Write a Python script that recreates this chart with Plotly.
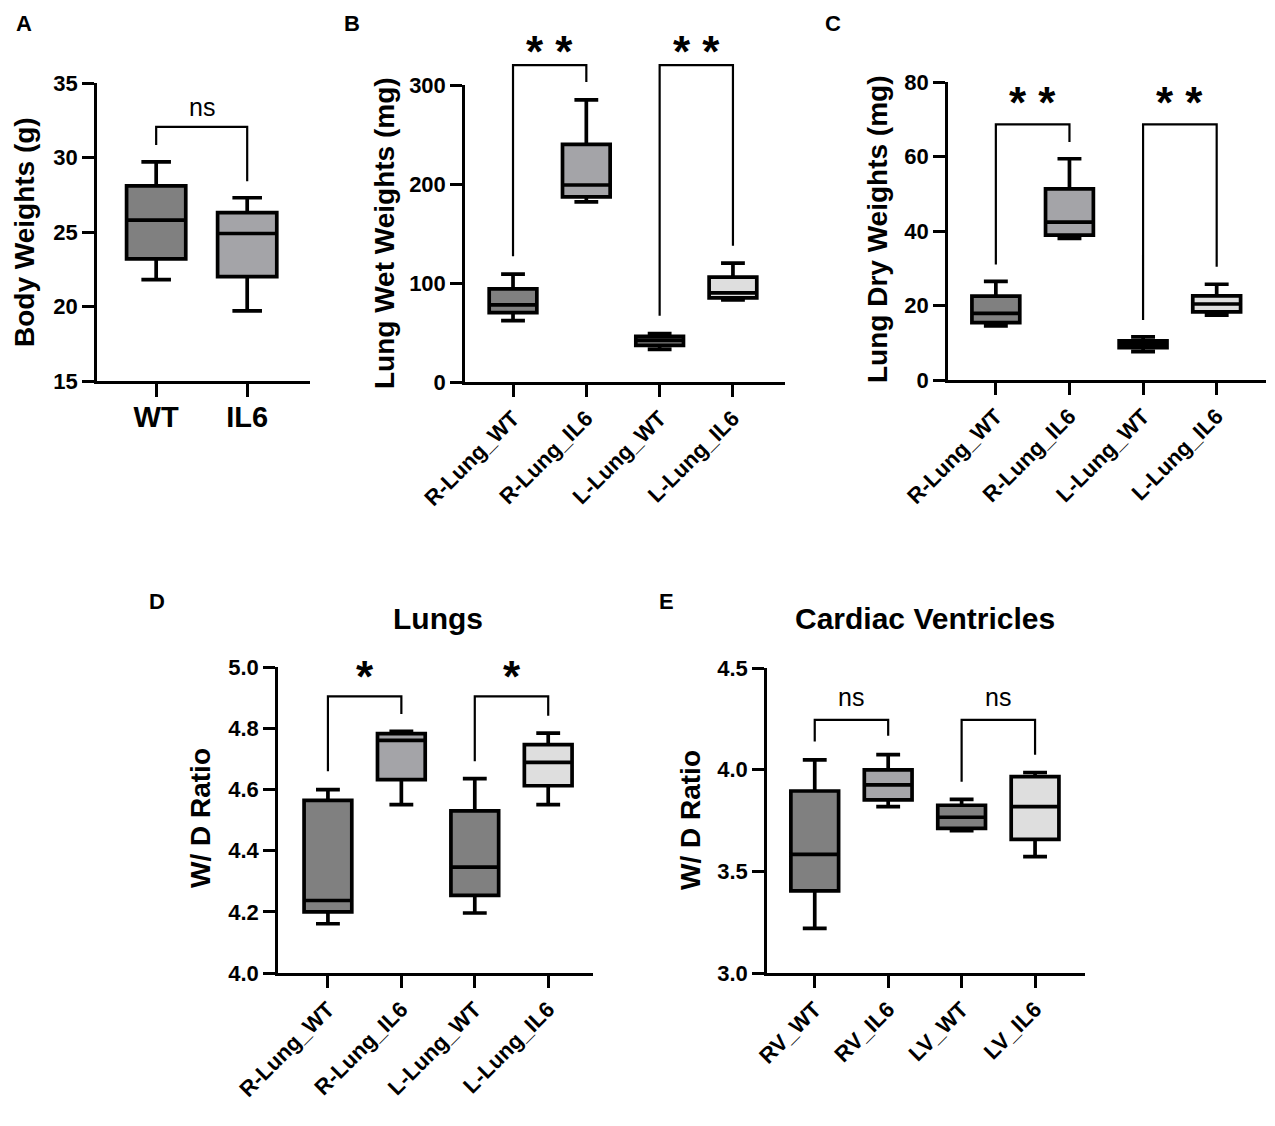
import plotly.graph_objects as go

# page body has an 8px margin, so the figure is drawn 8px in from the window edge
OFF = 8
W, H = 1275 - 2 * OFF, 1126 - 2 * OFF
FONT = "Arial, Liberation Sans, sans-serif"
DARK = "#808080"
MID = "#a4a4a8"
LIGHT = "#dedede"


def px(x):
    return (x - OFF) / W


def py(y):
    return 1 - (y - OFF) / H


# Panel A - body weights
a_groups = ["WT", "IL6"]
a_low = [21.8, 19.7]
a_q1 = [23.2, 22.0]
a_med = [25.8, 24.9]
a_q3 = [28.1, 26.3]
a_high = [29.7, 27.3]

# Panel B - lung wet weights (mg)
lung_groups = ["R-Lung_WT", "R-Lung_IL6", "L-Lung_WT", "L-Lung_IL6"]
b_low = [62, 182, 33, 83]
b_q1 = [70, 187, 37, 85]
b_med = [78, 199, 42, 90]
b_q3 = [94, 240, 46, 106]
b_high = [109, 285, 49, 120]

# Panel C - lung dry weights (mg)
c_low = [14.5, 38.0, 7.6, 17.4]
c_q1 = [15.4, 38.9, 8.7, 18.3]
c_med = [17.9, 42.4, 9.6, 20.4]
c_q3 = [22.5, 51.3, 10.5, 22.6]
c_high = [26.5, 59.4, 11.6, 25.7]

# Panel D - lungs W/D ratio
d_low = [4.161, 4.55, 4.196, 4.55]
d_q1 = [4.20, 4.632, 4.254, 4.612]
d_med = [4.237, 4.76, 4.346, 4.688]
d_q3 = [4.564, 4.782, 4.53, 4.746]
d_high = [4.599, 4.79, 4.635, 4.784]

# Panel E - cardiac ventricles W/D ratio
vent_groups = ["RV_WT", "RV_IL6", "LV_WT", "LV_IL6"]
e_low = [3.219, 3.818, 3.70, 3.572]
e_q1 = [3.404, 3.851, 3.711, 3.657]
e_med = [3.583, 3.925, 3.766, 3.818]
e_q3 = [3.895, 3.999, 3.825, 3.966]
e_high = [4.048, 4.074, 3.854, 3.986]

# significance brackets: (left idx, right idx, top, left foot, right foot, label, label y)
a_sig = [(0, 1, 32.05, 30.84, 28.4, "ns", 33.4)]
b_sig = [(0, 1, 320, 127, 303, "* *", 334), (2, 3, 320, 67, 137.6, "* *", 334)]
c_sig = [(0, 1, 68.6, 31, 63.9, "* *", 74.5), (2, 3, 68.6, 16.1, 30.4, "* *", 74.5)]
d_sig = [(0, 1, 4.904, 4.659, 4.846, "*", 4.97), (2, 3, 4.904, 4.692, 4.841, "*", 4.97)]
e_sig = [(0, 1, 4.245, 4.139, 4.167, "ns", 4.355), (2, 3, 4.245, 3.941, 4.073, "ns", 4.355)]

panels = [
    dict(key="", groups=a_groups, stats=(a_low, a_q1, a_med, a_q3, a_high),
         colors=[DARK, MID], sig=a_sig, xd=(97, 310), yd=(83, 381),
         yr=[15, 35], dt=5, xr=[-0.65, 1.69], letter="A", lx=24,
         ytitle="Body Weights (g)", tx=25, ty=232, angle=0),
    dict(key="2", groups=lung_groups, stats=(b_low, b_q1, b_med, b_q3, b_high),
         colors=[DARK, MID, DARK, LIGHT], sig=b_sig, xd=(465, 785), yd=(85, 382),
         yr=[0, 300], dt=100, xr=[-0.655, 3.71], letter="B", lx=352,
         ytitle="Lung Wet Weights (mg)", tx=384, ty=233, angle=-45),
    dict(key="3", groups=lung_groups, stats=(c_low, c_q1, c_med, c_q3, c_high),
         colors=[DARK, MID, DARK, LIGHT], sig=c_sig, xd=(948, 1266), yd=(82, 380),
         yr=[0, 80], dt=20, xr=[-0.65, 3.67], letter="C", lx=833,
         ytitle="Lung Dry Weights (mg)", tx=878, ty=230, angle=-45),
    dict(key="4", groups=lung_groups, stats=(d_low, d_q1, d_med, d_q3, d_high),
         colors=[DARK, MID, DARK, LIGHT], sig=d_sig, xd=(278, 593), yd=(667, 973),
         yr=[4.0, 5.0], dt=0.2, xr=[-0.68, 3.61], letter="D", lx=157,
         ytitle="W/ D Ratio", tx=200, ty=818, angle=-45),
    dict(key="5", groups=vent_groups, stats=(e_low, e_q1, e_med, e_q3, e_high),
         colors=[DARK, MID, DARK, LIGHT], sig=e_sig, xd=(767, 1085), yd=(668, 973),
         yr=[3.0, 4.5], dt=0.5, xr=[-0.65, 3.68], letter="E", lx=666,
         ytitle="W/ D Ratio", tx=690, ty=820, angle=-45),
]

EXT = 1.2  # brackets live on a hidden, taller copy of each y axis so they are not clipped

fig = go.Figure()
annotations = []
layout = {}

for n, p in enumerate(panels):
    k = p["key"]
    xa, ya = "x" + k, "y" + k
    ba = "y" + str(6 + n)
    low, q1, med, q3, high = p["stats"]
    for i, g in enumerate(p["groups"]):
        fig.add_trace(go.Box(
            x=[g], q1=[q1[i]], median=[med[i]], q3=[q3[i]],
            lowerfence=[low[i]], upperfence=[high[i]],
            fillcolor=p["colors"][i], line=dict(color="black", width=3.7),
            width=0.65, whiskerwidth=0.5, boxpoints=False,
            xaxis=xa, yaxis=ya, showlegend=False, hoverinfo="skip",
        ))
    for li, ri, top, lf, rf, lab, ly in p["sig"]:
        gl, gr = p["groups"][li], p["groups"][ri]
        fig.add_trace(go.Scatter(
            x=[gl, gl, gr, gr], y=[lf, top, top, rf], mode="lines",
            line=dict(color="black", width=2.2), xaxis=xa, yaxis=ba,
            showlegend=False, hoverinfo="skip",
        ))
        is_star = "*" in lab
        annotations.append(dict(
            x=(li + ri) / 2, y=ly, xref=xa, yref=ba, text=lab, showarrow=False,
            xanchor="center", yanchor="middle",
            font=dict(size=44 if is_star else 25, family=FONT, color="black",
                      weight="bold" if is_star else "normal"),
        ))
    big = p["key"] == ""
    y0d, y1d = py(p["yd"][1]), py(p["yd"][0])
    ext = min(EXT, (0.999 - y0d) / (y1d - y0d))
    layout["xaxis" + k] = dict(
        domain=[px(p["xd"][0]), px(p["xd"][1])], anchor=ya, type="category",
        range=p["xr"], showline=True, linecolor="black", linewidth=2.5,
        ticks="outside", ticklen=13 if big else 12, tickwidth=2.5,
        tickcolor="black", ticklabelstandoff=-5 if big else 0,
        tickangle=p["angle"], showgrid=False, zeroline=False, fixedrange=True,
        automargin=False,
        tickfont=dict(size=29 if big else 22, family=FONT, color="black",
                      weight="bold"),
    )
    layout["yaxis" + k] = dict(
        domain=[y0d, y1d], anchor=xa,
        range=p["yr"], dtick=p["dt"], tick0=p["yr"][0],
        showline=True, linecolor="black", linewidth=2.5,
        ticks="outside", ticklen=12, tickwidth=2.5, tickcolor="black",
        showgrid=False, zeroline=False, fixedrange=True, automargin=False,
        tickformat=".1f" if p["dt"] < 1 else "d",
        tickfont=dict(size=22, family=FONT, color="black", weight="bold"),
    )
    span = p["yr"][1] - p["yr"][0]
    layout["yaxis" + str(6 + n)] = dict(
        domain=[y0d, y0d + (y1d - y0d) * ext], anchor=xa,
        range=[p["yr"][0], p["yr"][0] + span * ext], visible=False,
        fixedrange=True, automargin=False,
    )
    annotations.append(dict(
        x=px(p["tx"]), y=py(p["ty"]), xref="paper", yref="paper",
        text=p["ytitle"], textangle=-90, showarrow=False,
        xanchor="center", yanchor="middle",
        font=dict(size=28, family=FONT, color="black", weight="bold"),
    ))
    ly = 24 if p["letter"] in "ABC" else 601
    annotations.append(dict(
        x=px(p["lx"]), y=py(ly), xref="paper", yref="paper",
        text=p["letter"], showarrow=False, xanchor="center", yanchor="middle",
        font=dict(size=22, family=FONT, color="black", weight="bold"),
    ))

for text, cx in [("Lungs", 438), ("Cardiac Ventricles", 925)]:
    annotations.append(dict(
        x=px(cx), y=py(618), xref="paper", yref="paper", text=text,
        showarrow=False, xanchor="center", yanchor="middle",
        font=dict(size=30, family=FONT, color="black", weight="bold"),
    ))

fig.update_layout(
    width=W, height=H, margin=dict(l=0, r=0, t=0, b=0),
    paper_bgcolor="white", plot_bgcolor="rgba(0,0,0,0)",
    annotations=annotations, **layout,
)

fig.write_html("out.html")
